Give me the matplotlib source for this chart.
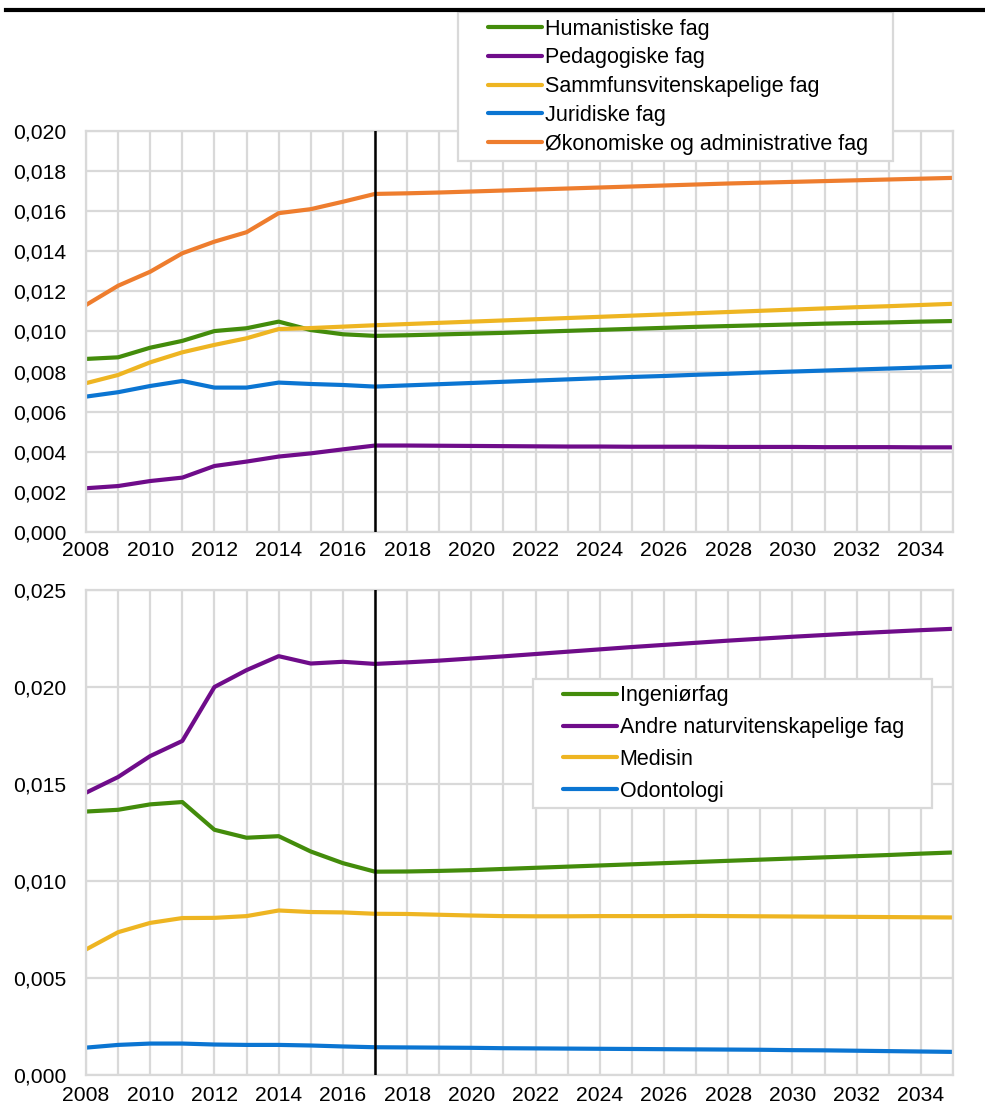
import numpy as np
import matplotlib
matplotlib.use("Agg")
import matplotlib.pyplot as plt
from matplotlib.lines import Line2D
from matplotlib.legend_handler import HandlerLine2D
from matplotlib.ticker import FuncFormatter, MultipleLocator

plt.rcParams['font.family'] = ['Liberation Sans', 'DejaVu Sans']

years = np.arange(2008, 2036)

# top panel, values in thousandths
hum = [8.63, 8.71, 9.19, 9.53, 10.02, 10.16, 10.49, 10.07, 9.86, 9.78,
       9.81, 9.85, 9.89, 9.93, 9.98, 10.03, 10.08, 10.13, 10.18, 10.23,
       10.27, 10.31, 10.35, 10.39, 10.42, 10.45, 10.49, 10.52]
ped = [2.18, 2.29, 2.54, 2.71, 3.29, 3.51, 3.76, 3.92, 4.12, 4.31,
       4.31, 4.30, 4.29, 4.28, 4.27, 4.26, 4.26, 4.25, 4.25, 4.25,
       4.24, 4.24, 4.24, 4.23, 4.23, 4.23, 4.22, 4.22]
sam = [7.42, 7.83, 8.46, 8.96, 9.33, 9.66, 10.12, 10.17, 10.24, 10.31,
       10.37, 10.43, 10.49, 10.55, 10.61, 10.67, 10.73, 10.79, 10.85, 10.91,
       10.97, 11.03, 11.09, 11.15, 11.21, 11.26, 11.32, 11.38]
jur = [6.75, 6.97, 7.28, 7.53, 7.20, 7.20, 7.45, 7.38, 7.33, 7.25,
       7.31, 7.37, 7.43, 7.49, 7.55, 7.61, 7.67, 7.73, 7.78, 7.84,
       7.89, 7.95, 8.00, 8.05, 8.10, 8.15, 8.20, 8.25]
oko = [11.32, 12.28, 12.98, 13.90, 14.48, 14.95, 15.90, 16.10, 16.47, 16.86,
       16.89, 16.93, 16.98, 17.03, 17.08, 17.13, 17.18, 17.23, 17.28, 17.33,
       17.38, 17.42, 17.46, 17.50, 17.54, 17.58, 17.62, 17.66]

# bottom panel
ing = [13.58, 13.67, 13.95, 14.07, 12.64, 12.23, 12.31, 11.52, 10.92, 10.48,
       10.49, 10.52, 10.56, 10.62, 10.68, 10.74, 10.80, 10.86, 10.92, 10.98,
       11.04, 11.10, 11.16, 11.22, 11.28, 11.34, 11.41, 11.47]
andre = [14.55, 15.36, 16.44, 17.22, 20.00, 20.87, 21.59, 21.21, 21.30, 21.19,
         21.27, 21.36, 21.47, 21.58, 21.70, 21.82, 21.94, 22.06, 22.17, 22.28,
         22.39, 22.49, 22.59, 22.68, 22.77, 22.85, 22.93, 23.00]
med = [6.47, 7.36, 7.84, 8.09, 8.10, 8.19, 8.48, 8.40, 8.38, 8.31,
       8.30, 8.26, 8.22, 8.19, 8.18, 8.18, 8.19, 8.19, 8.19, 8.20,
       8.19, 8.18, 8.17, 8.16, 8.15, 8.14, 8.13, 8.12]
odo = [1.41, 1.55, 1.62, 1.62, 1.57, 1.55, 1.55, 1.52, 1.47, 1.43,
       1.42, 1.41, 1.40, 1.38, 1.37, 1.36, 1.35, 1.34, 1.33, 1.32,
       1.31, 1.30, 1.28, 1.27, 1.25, 1.23, 1.21, 1.19]

GREEN = "#438C0B"
PURPLE = "#6F0C8A"
YELLOW = "#EEB522"
BLUE = "#0B75D2"
ORANGE = "#EE7D2E"
GRID = "#D9D9D9"

top_series = [("Humanistiske fag", hum, GREEN),
              ("Pedagogiske fag", ped, PURPLE),
              ("Sammfunsvitenskapelige fag", sam, YELLOW),
              ("Juridiske fag", jur, BLUE),
              ("Økonomiske og administrative fag", oko, ORANGE)]
bot_series = [("Ingeniørfag", ing, GREEN),
              ("Andre naturvitenskapelige fag", andre, PURPLE),
              ("Medisin", med, YELLOW),
              ("Odontologi", odo, BLUE)]


class PadHandler(HandlerLine2D):
    # legend line only in the right part of the handle box (blank on the left)
    def get_xdata(self, legend, xdescent, ydescent, width, height, fontsize):
        x0 = -xdescent + width * 0.3
        x1 = -xdescent + width
        return np.array([x0, x1]), np.array([x0, x1])


fig = plt.figure(figsize=(9.85, 11.08), dpi=100)
ax1 = fig.add_axes([0.0873, 0.5199, 0.8802, 0.3619])
ax2 = fig.add_axes([0.0873, 0.0298, 0.8802, 0.4377])

fmt = FuncFormatter(lambda v, p: f"{v:.3f}".replace(".", ","))


def style(ax, ymax, ystep, xpad):
    ax.set_xlim(2008, 2035)
    ax.set_ylim(0, ymax)
    ax.xaxis.set_major_locator(MultipleLocator(2))
    ax.xaxis.set_minor_locator(MultipleLocator(1))
    ax.yaxis.set_major_locator(MultipleLocator(ystep))
    ax.yaxis.set_major_formatter(fmt)
    ax.grid(True, which='both', axis='x', color=GRID, lw=1.6)
    ax.grid(True, which='major', axis='y', color=GRID, lw=1.6)
    ax.set_axisbelow(True)
    for s in ax.spines.values():
        s.set_color(GRID)
        s.set_linewidth(1.6)
    ax.tick_params(which='both', length=0, labelsize=15.2)
    ax.tick_params(axis='x', pad=xpad)
    ax.tick_params(axis='y', pad=14)
    ax.axvline(2017, color='black', lw=1.8, zorder=5)


for name, vals, col in top_series:
    ax1.plot(years, np.array(vals) / 1000, color=col, lw=3.0, label=name,
             solid_capstyle='round')
style(ax1, 0.020, 0.002, 6.5)

for name, vals, col in bot_series:
    ax2.plot(years, np.array(vals) / 1000, color=col, lw=3.0, label=name,
             solid_capstyle='round')
style(ax2, 0.025, 0.005, 8)

leg_kw = dict(loc='upper left', mode='expand', bbox_transform=fig.transFigure,
              fontsize=15.5, frameon=True, fancybox=False, framealpha=1,
              edgecolor=GRID, handlelength=3.6, handletextpad=0.12,
              borderpad=0.3, borderaxespad=0,
              handler_map={Line2D: PadHandler()})

leg1 = ax1.legend(bbox_to_anchor=(0.465, 0.989, 0.4416, 0),
                  labelspacing=0.36, **leg_kw)
leg1.get_frame().set_linewidth(1.6)
leg1.set_zorder(10)

leg2 = ax2.legend(bbox_to_anchor=(0.5411, 0.3872, 0.405, 0),
                  labelspacing=0.5, **leg_kw)
leg2.get_frame().set_linewidth(1.6)
leg2.set_zorder(10)

fig.add_artist(Line2D([0.006, 1.0], [0.991, 0.991], transform=fig.transFigure,
                      color='black', lw=3))

fig.savefig("out.png", dpi=100)
